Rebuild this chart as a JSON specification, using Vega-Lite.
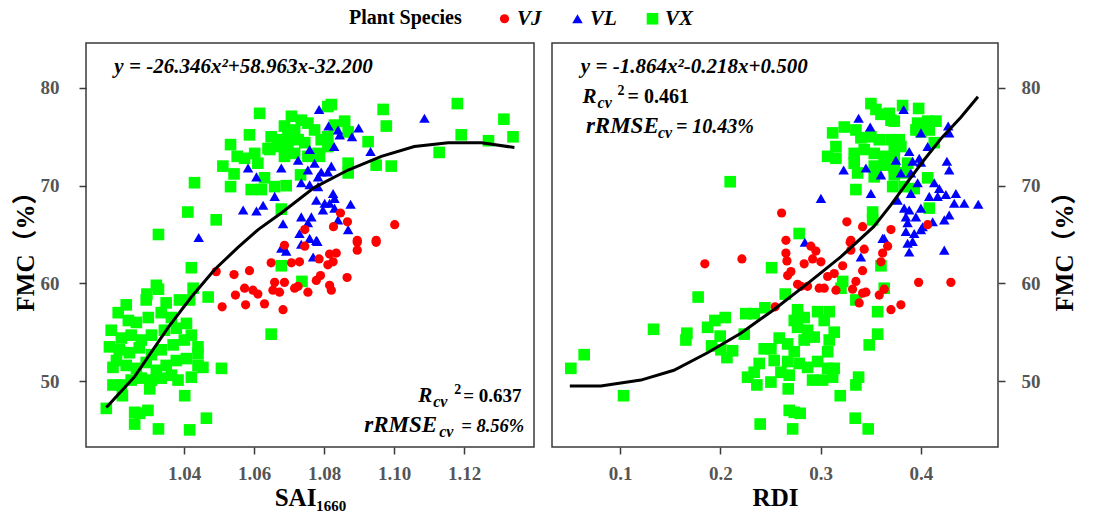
{
  "$schema": "https://vega.github.io/schema/vega-lite/v6.json",
  "background": "white",
  "padding": {"left": 12, "top": 8, "right": 10, "bottom": 5},
  "spacing": 16,
  "config": {
    "font": "Liberation Serif",
    "view": {"stroke": "#3a3a3a", "strokeWidth": 1.5},
    "axis": {
      "labelFont": "Liberation Serif",
      "labelFontWeight": "bold",
      "labelFontSize": 19,
      "labelColor": "#555555",
      "titleFont": "Liberation Serif, Noto Sans CJK SC",
      "titleFontSize": 25,
      "titleFontWeight": "bold",
      "titleColor": "#000000",
      "tickColor": "#3a3a3a",
      "tickSize": 7,
      "tickWidth": 1.5,
      "domain": false,
      "grid": false
    }
  },
  "datasets": {
    "sai": [
      {"sai":1.0616,"fmc":77.4,"species":"VX"},{"sai":1.0587,"fmc":75.2,"species":"VX"},{"sai":1.0533,"fmc":74.2,"species":"VX"},{"sai":1.0552,"fmc":73.0,"species":"VX"},{"sai":1.0573,"fmc":72.8,"species":"VX"},{"sai":1.0511,"fmc":72.0,"species":"VX"},{"sai":1.0543,"fmc":71.2,"species":"VX"},{"sai":1.043,"fmc":70.3,"species":"VX"},{"sai":1.0533,"fmc":69.9,"species":"VX"},{"sai":1.0411,"fmc":67.3,"species":"VX"},{"sai":1.0492,"fmc":66.5,"species":"VX"},{"sai":1.0327,"fmc":65.0,"species":"VX"},{"sai":1.0592,"fmc":69.6,"species":"VX"},{"sai":1.0621,"fmc":69.6,"species":"VX"},{"sai":1.063,"fmc":70.8,"species":"VX"},{"sai":1.0659,"fmc":69.9,"species":"VX"},{"sai":1.0692,"fmc":70.0,"species":"VX"},{"sai":1.0678,"fmc":67.6,"species":"VX"},{"sai":1.0602,"fmc":73.3,"species":"VX"},{"sai":1.0611,"fmc":72.3,"species":"VX"},{"sai":1.0645,"fmc":73.7,"species":"VX"},{"sai":1.0649,"fmc":75.0,"species":"VX"},
      {"sai":1.0687,"fmc":76.1,"species":"VX"},{"sai":1.0707,"fmc":77.1,"species":"VX"},{"sai":1.0716,"fmc":75.7,"species":"VX"},{"sai":1.0678,"fmc":74.7,"species":"VX"},{"sai":1.0697,"fmc":74.0,"species":"VX"},{"sai":1.0726,"fmc":74.7,"species":"VX"},{"sai":1.0754,"fmc":76.4,"species":"VX"},{"sai":1.0773,"fmc":75.7,"species":"VX"},{"sai":1.0745,"fmc":74.4,"species":"VX"},{"sai":1.0783,"fmc":73.3,"species":"VX"},{"sai":1.0716,"fmc":73.3,"species":"VX"},{"sai":1.0669,"fmc":74.0,"species":"VX"},{"sai":1.064,"fmc":73.8,"species":"VX"},{"sai":1.0792,"fmc":74.7,"species":"VX"},{"sai":1.0811,"fmc":75.0,"species":"VX"},{"sai":1.0811,"fmc":78.1,"species":"VX"},{"sai":1.0821,"fmc":78.3,"species":"VX"},{"sai":1.083,"fmc":76.2,"species":"VX"},{"sai":1.0859,"fmc":76.6,"species":"VX"},{"sai":1.0869,"fmc":75.5,"species":"VX"},{"sai":1.0811,"fmc":74.0,"species":"VX"},{"sai":1.0697,"fmc":75.0,"species":"VX"},{"sai":1.0735,"fmc":76.7,"species":"VX"},{"sai":1.0687,"fmc":73.0,"species":"VX"},{"sai":1.0754,"fmc":73.0,"species":"VX"},
      {"sai":1.0869,"fmc":72.3,"species":"VX"},{"sai":1.0869,"fmc":71.3,"species":"VX"},{"sai":1.0926,"fmc":74.5,"species":"VX"},{"sai":1.0949,"fmc":72.1,"species":"VX"},{"sai":1.0992,"fmc":72.0,"species":"VX"},{"sai":1.0969,"fmc":77.8,"species":"VX"},{"sai":1.0978,"fmc":76.1,"species":"VX"},{"sai":1.1181,"fmc":78.4,"species":"VX"},{"sai":1.1192,"fmc":75.2,"species":"VX"},{"sai":1.1129,"fmc":73.4,"species":"VX"},{"sai":1.127,"fmc":74.6,"species":"VX"},{"sai":1.1314,"fmc":76.8,"species":"VX"},{"sai":1.134,"fmc":75.0,"species":"VX"},{"sai":1.0733,"fmc":71.1,"species":"VX"},{"sai":1.0787,"fmc":73.0,"species":"VX"},
      {"sai":1.0421,"fmc":61.6,"species":"VX"},{"sai":1.0426,"fmc":59.5,"species":"VX"},{"sai":1.0416,"fmc":58.3,"species":"VX"},{"sai":1.0469,"fmc":58.6,"species":"VX"},{"sai":1.0327,"fmc":59.4,"species":"VX"},{"sai":1.0294,"fmc":58.9,"species":"VX"},{"sai":1.0507,"fmc":51.3,"species":"VX"},{"sai":1.044,"fmc":53.5,"species":"VX"},{"sai":1.044,"fmc":52.8,"species":"VX"},{"sai":1.044,"fmc":51.6,"species":"VX"},{"sai":1.0454,"fmc":51.4,"species":"VX"},{"sai":1.0421,"fmc":50.4,"species":"VX"},{"sai":1.0383,"fmc":50.1,"species":"VX"},{"sai":1.0197,"fmc":51.4,"species":"VX"},{"sai":1.0197,"fmc":49.6,"species":"VX"},{"sai":1.0221,"fmc":49.6,"species":"VX"},{"sai":1.0224,"fmc":48.5,"species":"VX"},{"sai":1.0302,"fmc":49.2,"species":"VX"},{"sai":1.0402,"fmc":48.5,"species":"VX"},{"sai":1.0178,"fmc":47.2,"species":"VX"},{"sai":1.0259,"fmc":46.8,"species":"VX"},{"sai":1.0273,"fmc":46.7,"species":"VX"},{"sai":1.0297,"fmc":47.0,"species":"VX"},{"sai":1.0259,"fmc":45.6,"species":"VX"},{"sai":1.0327,"fmc":45.1,"species":"VX"},{"sai":1.0416,"fmc":45.0,"species":"VX"},{"sai":1.0464,"fmc":46.2,"species":"VX"},{"sai":1.0649,"fmc":54.8,"species":"VX"},{"sai":1.0678,"fmc":61.8,"species":"VX"},{"sai":1.0737,"fmc":60.2,"species":"VX"},
      {"sai":1.0212,"fmc":57.0,"species":"VX"},{"sai":1.0241,"fmc":56.2,"species":"VX"},{"sai":1.0264,"fmc":56.0,"species":"VX"},{"sai":1.0298,"fmc":56.5,"species":"VX"},{"sai":1.0335,"fmc":57.0,"species":"VX"},{"sai":1.0364,"fmc":56.5,"species":"VX"},{"sai":1.0192,"fmc":55.2,"species":"VX"},{"sai":1.0221,"fmc":54.4,"species":"VX"},{"sai":1.0249,"fmc":54.7,"species":"VX"},{"sai":1.0278,"fmc":54.2,"species":"VX"},{"sai":1.0307,"fmc":54.7,"species":"VX"},{"sai":1.0344,"fmc":55.2,"species":"VX"},{"sai":1.0378,"fmc":55.4,"species":"VX"},{"sai":1.0407,"fmc":55.9,"species":"VX"},{"sai":1.0187,"fmc":53.5,"species":"VX"},{"sai":1.0215,"fmc":53.2,"species":"VX"},{"sai":1.0244,"fmc":52.9,"species":"VX"},{"sai":1.0272,"fmc":53.4,"species":"VX"},{"sai":1.0307,"fmc":52.7,"species":"VX"},{"sai":1.0335,"fmc":53.2,"species":"VX"},{"sai":1.0369,"fmc":53.7,"species":"VX"},{"sai":1.0401,"fmc":54.2,"species":"VX"},{"sai":1.0421,"fmc":54.7,"species":"VX"},{"sai":1.0207,"fmc":52.1,"species":"VX"},{"sai":1.0235,"fmc":51.6,"species":"VX"},{"sai":1.0264,"fmc":51.3,"species":"VX"},{"sai":1.0292,"fmc":51.9,"species":"VX"},{"sai":1.0321,"fmc":51.1,"species":"VX"},{"sai":1.0349,"fmc":51.6,"species":"VX"},{"sai":1.0378,"fmc":52.1,"species":"VX"},{"sai":1.0407,"fmc":52.3,"species":"VX"},{"sai":1.0278,"fmc":50.3,"species":"VX"},{"sai":1.0307,"fmc":50.1,"species":"VX"},{"sai":1.0335,"fmc":50.3,"species":"VX"},{"sai":1.0364,"fmc":50.6,"species":"VX"},{"sai":1.0249,"fmc":50.1,"species":"VX"},{"sai":1.0235,"fmc":57.8,"species":"VX"},{"sai":1.0292,"fmc":58.3,"species":"VX"},{"sai":1.0349,"fmc":58.0,"species":"VX"},{"sai":1.0387,"fmc":58.3,"species":"VX"},{"sai":1.0321,"fmc":59.8,"species":"VX"},
      {"sai":1.0786,"fmc":77.8,"species":"VL"},{"sai":1.0813,"fmc":76.1,"species":"VL"},{"sai":1.084,"fmc":75.7,"species":"VL"},{"sai":1.0845,"fmc":75.2,"species":"VL"},{"sai":1.088,"fmc":75.0,"species":"VL"},{"sai":1.0899,"fmc":75.9,"species":"VL"},{"sai":1.0933,"fmc":73.5,"species":"VL"},{"sai":1.0829,"fmc":74.0,"species":"VL"},{"sai":1.0759,"fmc":73.7,"species":"VL"},{"sai":1.0726,"fmc":72.6,"species":"VL"},{"sai":1.0678,"fmc":71.8,"species":"VL"},{"sai":1.0583,"fmc":71.8,"species":"VL"},{"sai":1.0607,"fmc":70.9,"species":"VL"},{"sai":1.0773,"fmc":72.3,"species":"VL"},{"sai":1.0754,"fmc":71.6,"species":"VL"},{"sai":1.0792,"fmc":71.4,"species":"VL"},{"sai":1.0821,"fmc":72.0,"species":"VL"},{"sai":1.0811,"fmc":71.4,"species":"VL"},{"sai":1.0735,"fmc":70.3,"species":"VL"},{"sai":1.0759,"fmc":70.1,"species":"VL"},{"sai":1.0783,"fmc":70.9,"species":"VL"},{"sai":1.0783,"fmc":69.9,"species":"VL"},{"sai":1.0659,"fmc":68.9,"species":"VL"},{"sai":1.0569,"fmc":67.5,"species":"VL"},{"sai":1.0607,"fmc":67.4,"species":"VL"},{"sai":1.0626,"fmc":68.0,"species":"VL"},{"sai":1.0826,"fmc":69.2,"species":"VL"},{"sai":1.083,"fmc":68.7,"species":"VL"},{"sai":1.0816,"fmc":68.2,"species":"VL"},{"sai":1.0778,"fmc":68.5,"species":"VL"},{"sai":1.0802,"fmc":68.2,"species":"VL"},{"sai":1.0797,"fmc":67.5,"species":"VL"},{"sai":1.083,"fmc":67.7,"species":"VL"},{"sai":1.0876,"fmc":68.1,"species":"VL"},{"sai":1.0735,"fmc":66.8,"species":"VL"},{"sai":1.0764,"fmc":66.8,"species":"VL"},{"sai":1.0754,"fmc":66.2,"species":"VL"},{"sai":1.0683,"fmc":66.1,"species":"VL"},{"sai":1.073,"fmc":65.1,"species":"VL"},{"sai":1.0759,"fmc":64.6,"species":"VL"},{"sai":1.0778,"fmc":64.4,"species":"VL"},{"sai":1.084,"fmc":66.5,"species":"VL"},{"sai":1.0869,"fmc":65.5,"species":"VL"},{"sai":1.0442,"fmc":64.7,"species":"VL"},{"sai":1.1087,"fmc":76.9,"species":"VL"},{"sai":1.0735,"fmc":64.0,"species":"VL"},{"sai":1.0781,"fmc":64.3,"species":"VL"},{"sai":1.0678,"fmc":63.6,"species":"VL"},{"sai":1.0692,"fmc":63.3,"species":"VL"},{"sai":1.0769,"fmc":62.7,"species":"VL"},
      {"sai":1.0847,"fmc":67.2,"species":"VJ"},{"sai":1.0867,"fmc":66.3,"species":"VJ"},{"sai":1.0827,"fmc":65.8,"species":"VJ"},{"sai":1.1002,"fmc":66.0,"species":"VJ"},{"sai":1.0745,"fmc":65.5,"species":"VJ"},{"sai":1.0895,"fmc":64.4,"species":"VJ"},{"sai":1.0949,"fmc":64.4,"species":"VJ"},{"sai":1.0492,"fmc":61.2,"species":"VJ"},{"sai":1.0543,"fmc":60.9,"species":"VJ"},{"sai":1.0587,"fmc":61.3,"species":"VJ"},{"sai":1.0573,"fmc":59.5,"species":"VJ"},{"sai":1.0597,"fmc":59.3,"species":"VJ"},{"sai":1.0611,"fmc":58.9,"species":"VJ"},{"sai":1.0547,"fmc":58.8,"species":"VJ"},{"sai":1.0509,"fmc":57.6,"species":"VJ"},{"sai":1.0576,"fmc":57.8,"species":"VJ"},{"sai":1.063,"fmc":57.9,"species":"VJ"},{"sai":1.0683,"fmc":57.3,"species":"VJ"},{"sai":1.0649,"fmc":62.1,"species":"VJ"},{"sai":1.0659,"fmc":60.1,"species":"VJ"},{"sai":1.0687,"fmc":60.1,"species":"VJ"},{"sai":1.0654,"fmc":59.3,"species":"VJ"},{"sai":1.0673,"fmc":59.1,"species":"VJ"},{"sai":1.0716,"fmc":59.5,"species":"VJ"},{"sai":1.0726,"fmc":59.7,"species":"VJ"},{"sai":1.0754,"fmc":59.1,"species":"VJ"},{"sai":1.0687,"fmc":63.9,"species":"VJ"},{"sai":1.0707,"fmc":62.1,"species":"VJ"},{"sai":1.073,"fmc":62.2,"species":"VJ"},{"sai":1.0745,"fmc":63.8,"species":"VJ"},{"sai":1.0778,"fmc":60.3,"species":"VJ"},{"sai":1.079,"fmc":60.8,"species":"VJ"},{"sai":1.0816,"fmc":59.8,"species":"VJ"},{"sai":1.0821,"fmc":59.3,"species":"VJ"},{"sai":1.0786,"fmc":62.5,"species":"VJ"},{"sai":1.0811,"fmc":61.9,"species":"VJ"},{"sai":1.0826,"fmc":62.2,"species":"VJ"},{"sai":1.0816,"fmc":63.0,"species":"VJ"},{"sai":1.0835,"fmc":63.1,"species":"VJ"},{"sai":1.0895,"fmc":64.2,"species":"VJ"},{"sai":1.0895,"fmc":63.4,"species":"VJ"},{"sai":1.0949,"fmc":64.2,"species":"VJ"},{"sai":1.0866,"fmc":60.6,"species":"VJ"}
    ],
    "rdi": [
      {"rdi":0.2098,"fmc":70.4,"species":"VX"},{"rdi":0.3502,"fmc":78.4,"species":"VX"},{"rdi":0.3552,"fmc":77.8,"species":"VX"},{"rdi":0.3602,"fmc":77.3,"species":"VX"},{"rdi":0.3685,"fmc":77.4,"species":"VX"},{"rdi":0.3702,"fmc":76.7,"species":"VX"},{"rdi":0.3735,"fmc":76.6,"species":"VX"},{"rdi":0.3818,"fmc":78.2,"species":"VX"},{"rdi":0.3978,"fmc":77.9,"species":"VX"},{"rdi":0.312,"fmc":75.4,"species":"VX"},{"rdi":0.3236,"fmc":76.0,"species":"VX"},{"rdi":0.3352,"fmc":75.7,"species":"VX"},{"rdi":0.3402,"fmc":74.9,"species":"VX"},{"rdi":0.3502,"fmc":75.0,"species":"VX"},{"rdi":0.3585,"fmc":74.7,"species":"VX"},{"rdi":0.3702,"fmc":74.7,"species":"VX"},{"rdi":0.3784,"fmc":74.7,"species":"VX"},{"rdi":0.3801,"fmc":74.0,"species":"VX"},{"rdi":0.3735,"fmc":73.7,"species":"VX"},{"rdi":0.3968,"fmc":76.4,"species":"VX"},{"rdi":0.4068,"fmc":76.6,"species":"VX"},{"rdi":0.4151,"fmc":76.6,"species":"VX"},{"rdi":0.4001,"fmc":75.5,"species":"VX"},{"rdi":0.3951,"fmc":75.7,"species":"VX"},{"rdi":0.4084,"fmc":75.7,"species":"VX"},{"rdi":0.3153,"fmc":74.0,"species":"VX"},{"rdi":0.307,"fmc":73.0,"species":"VX"},{"rdi":0.3153,"fmc":72.8,"species":"VX"},{"rdi":0.3335,"fmc":73.3,"species":"VX"},{"rdi":0.3435,"fmc":73.7,"species":"VX"},{"rdi":0.3535,"fmc":73.3,"species":"VX"},{"rdi":0.3635,"fmc":73.0,"species":"VX"},{"rdi":0.3735,"fmc":73.0,"species":"VX"},{"rdi":0.3335,"fmc":72.3,"species":"VX"},{"rdi":0.3535,"fmc":72.0,"species":"VX"},{"rdi":0.3635,"fmc":72.1,"species":"VX"},{"rdi":0.3735,"fmc":71.8,"species":"VX"},{"rdi":0.3369,"fmc":71.3,"species":"VX"},{"rdi":0.3535,"fmc":70.9,"species":"VX"},{"rdi":0.3735,"fmc":71.1,"species":"VX"},{"rdi":0.3834,"fmc":71.3,"species":"VX"},{"rdi":0.3868,"fmc":72.3,"species":"VX"},{"rdi":0.3719,"fmc":69.9,"species":"VX"},{"rdi":0.3834,"fmc":69.9,"species":"VX"},{"rdi":0.3934,"fmc":69.7,"species":"VX"},{"rdi":0.4068,"fmc":70.8,"species":"VX"},{"rdi":0.4134,"fmc":74.4,"species":"VX"},{"rdi":0.3352,"fmc":69.6,"species":"VX"},{"rdi":0.3519,"fmc":67.3,"species":"VX"},{"rdi":0.3519,"fmc":66.5,"species":"VX"},{"rdi":0.4084,"fmc":67.7,"species":"VX"},{"rdi":0.2786,"fmc":65.1,"species":"VX"},{"rdi":0.2511,"fmc":61.6,"species":"VX"},{"rdi":0.3602,"fmc":61.8,"species":"VX"},{"rdi":0.322,"fmc":60.2,"species":"VX"},{"rdi":0.3203,"fmc":59.5,"species":"VX"},{"rdi":0.3352,"fmc":58.3,"species":"VX"},{"rdi":0.3635,"fmc":59.5,"species":"VX"},{"rdi":0.2647,"fmc":58.9,"species":"VX"},{"rdi":0.1778,"fmc":58.6,"species":"VX"},{"rdi":0.2254,"fmc":56.9,"species":"VX"},{"rdi":0.2337,"fmc":56.9,"species":"VX"},{"rdi":0.2444,"fmc":57.5,"species":"VX"},{"rdi":0.2048,"fmc":56.5,"species":"VX"},{"rdi":0.1945,"fmc":56.2,"species":"VX"},{"rdi":0.1872,"fmc":55.5,"species":"VX"},{"rdi":0.1998,"fmc":54.6,"species":"VX"},{"rdi":0.1666,"fmc":54.9,"species":"VX"},{"rdi":0.1656,"fmc":54.2,"species":"VX"},{"rdi":0.1333,"fmc":55.3,"species":"VX"},{"rdi":0.2238,"fmc":54.8,"species":"VX"},{"rdi":0.1912,"fmc":53.6,"species":"VX"},{"rdi":0.2005,"fmc":53.2,"species":"VX"},{"rdi":0.2122,"fmc":53.1,"species":"VX"},{"rdi":0.2065,"fmc":52.4,"species":"VX"},{"rdi":0.0641,"fmc":52.7,"species":"VX"},{"rdi":0.0508,"fmc":51.3,"species":"VX"},{"rdi":0.1034,"fmc":48.5,"species":"VX"},
      {"rdi":0.277,"fmc":57.3,"species":"VX"},{"rdi":0.2737,"fmc":56.2,"species":"VX"},{"rdi":0.2836,"fmc":56.5,"species":"VX"},{"rdi":0.277,"fmc":55.5,"species":"VX"},{"rdi":0.287,"fmc":55.2,"species":"VX"},{"rdi":0.297,"fmc":57.1,"species":"VX"},{"rdi":0.3086,"fmc":57.1,"species":"VX"},{"rdi":0.3036,"fmc":56.2,"species":"VX"},{"rdi":0.3136,"fmc":55.0,"species":"VX"},{"rdi":0.3086,"fmc":54.2,"species":"VX"},{"rdi":0.2936,"fmc":54.5,"species":"VX"},{"rdi":0.2836,"fmc":54.2,"species":"VX"},{"rdi":0.2587,"fmc":54.4,"species":"VX"},{"rdi":0.2671,"fmc":53.8,"species":"VX"},{"rdi":0.2737,"fmc":53.0,"species":"VX"},{"rdi":0.2504,"fmc":53.3,"species":"VX"},{"rdi":0.2437,"fmc":53.3,"species":"VX"},{"rdi":0.2537,"fmc":52.1,"species":"VX"},{"rdi":0.2671,"fmc":52.0,"species":"VX"},{"rdi":0.2786,"fmc":51.8,"species":"VX"},{"rdi":0.287,"fmc":51.4,"species":"VX"},{"rdi":0.297,"fmc":52.0,"species":"VX"},{"rdi":0.307,"fmc":53.0,"species":"VX"},{"rdi":0.307,"fmc":51.3,"species":"VX"},{"rdi":0.3136,"fmc":51.3,"species":"VX"},{"rdi":0.312,"fmc":50.4,"species":"VX"},{"rdi":0.302,"fmc":50.1,"species":"VX"},{"rdi":0.292,"fmc":50.1,"species":"VX"},{"rdi":0.2387,"fmc":51.8,"species":"VX"},{"rdi":0.2337,"fmc":50.9,"species":"VX"},{"rdi":0.2271,"fmc":50.4,"species":"VX"},{"rdi":0.2364,"fmc":49.6,"species":"VX"},{"rdi":0.2504,"fmc":49.9,"species":"VX"},{"rdi":0.2604,"fmc":50.9,"species":"VX"},{"rdi":0.2687,"fmc":50.6,"species":"VX"},{"rdi":0.2677,"fmc":49.2,"species":"VX"},{"rdi":0.3569,"fmc":57.1,"species":"VX"},{"rdi":0.3569,"fmc":54.8,"species":"VX"},{"rdi":0.3485,"fmc":53.7,"species":"VX"},{"rdi":0.3379,"fmc":50.4,"species":"VX"},{"rdi":0.3352,"fmc":49.6,"species":"VX"},{"rdi":0.3196,"fmc":48.5,"species":"VX"},{"rdi":0.2687,"fmc":47.0,"species":"VX"},{"rdi":0.2737,"fmc":46.8,"species":"VX"},{"rdi":0.2796,"fmc":46.7,"species":"VX"},{"rdi":0.2397,"fmc":45.6,"species":"VX"},{"rdi":0.2721,"fmc":45.1,"species":"VX"},{"rdi":0.3345,"fmc":46.2,"species":"VX"},{"rdi":0.3475,"fmc":45.1,"species":"VX"},
      {"rdi":0.3379,"fmc":76.9,"species":"VL"},{"rdi":0.3495,"fmc":76.0,"species":"VL"},{"rdi":0.3828,"fmc":77.8,"species":"VL"},{"rdi":0.4273,"fmc":76.1,"species":"VL"},{"rdi":0.4283,"fmc":75.4,"species":"VL"},{"rdi":0.4001,"fmc":75.4,"species":"VL"},{"rdi":0.4068,"fmc":74.0,"species":"VL"},{"rdi":0.3984,"fmc":72.8,"species":"VL"},{"rdi":0.3918,"fmc":72.5,"species":"VL"},{"rdi":0.4001,"fmc":72.4,"species":"VL"},{"rdi":0.3884,"fmc":73.5,"species":"VL"},{"rdi":0.3751,"fmc":72.6,"species":"VL"},{"rdi":0.323,"fmc":71.6,"species":"VL"},{"rdi":0.3452,"fmc":71.8,"species":"VL"},{"rdi":0.3602,"fmc":71.1,"species":"VL"},{"rdi":0.426,"fmc":72.5,"species":"VL"},{"rdi":0.4283,"fmc":71.6,"species":"VL"},{"rdi":0.3801,"fmc":71.3,"species":"VL"},{"rdi":0.3901,"fmc":71.3,"species":"VL"},{"rdi":0.3968,"fmc":70.3,"species":"VL"},{"rdi":0.3901,"fmc":69.2,"species":"VL"},{"rdi":0.4134,"fmc":70.3,"species":"VL"},{"rdi":0.4184,"fmc":69.7,"species":"VL"},{"rdi":0.4084,"fmc":68.9,"species":"VL"},{"rdi":0.4168,"fmc":68.9,"species":"VL"},{"rdi":0.425,"fmc":69.1,"species":"VL"},{"rdi":0.435,"fmc":69.2,"species":"VL"},{"rdi":0.3003,"fmc":68.7,"species":"VL"},{"rdi":0.3502,"fmc":69.2,"species":"VL"},{"rdi":0.3768,"fmc":68.5,"species":"VL"},{"rdi":0.3834,"fmc":67.7,"species":"VL"},{"rdi":0.3884,"fmc":67.5,"species":"VL"},{"rdi":0.3851,"fmc":66.8,"species":"VL"},{"rdi":0.3951,"fmc":66.8,"species":"VL"},{"rdi":0.4001,"fmc":67.7,"species":"VL"},{"rdi":0.4118,"fmc":66.3,"species":"VL"},{"rdi":0.4234,"fmc":66.5,"species":"VL"},{"rdi":0.4283,"fmc":67.0,"species":"VL"},{"rdi":0.4333,"fmc":68.2,"species":"VL"},{"rdi":0.4433,"fmc":68.2,"species":"VL"},{"rdi":0.4573,"fmc":68.1,"species":"VL"},{"rdi":0.3868,"fmc":66.2,"species":"VL"},{"rdi":0.3851,"fmc":65.3,"species":"VL"},{"rdi":0.3934,"fmc":65.1,"species":"VL"},{"rdi":0.4018,"fmc":65.8,"species":"VL"},{"rdi":0.3635,"fmc":64.6,"species":"VL"},{"rdi":0.2843,"fmc":64.2,"species":"VL"},{"rdi":0.3402,"fmc":62.7,"species":"VL"},{"rdi":0.3619,"fmc":64.6,"species":"VL"},{"rdi":0.3868,"fmc":64.1,"species":"VL"},{"rdi":0.3884,"fmc":63.2,"species":"VL"},{"rdi":0.3918,"fmc":64.3,"species":"VL"},{"rdi":0.4001,"fmc":65.5,"species":"VL"},{"rdi":0.4234,"fmc":63.4,"species":"VL"},
      {"rdi":0.2611,"fmc":67.2,"species":"VJ"},{"rdi":0.3262,"fmc":66.3,"species":"VJ"},{"rdi":0.3419,"fmc":65.8,"species":"VJ"},{"rdi":0.3702,"fmc":65.5,"species":"VJ"},{"rdi":0.4068,"fmc":66.0,"species":"VJ"},{"rdi":0.2654,"fmc":64.4,"species":"VJ"},{"rdi":0.3302,"fmc":64.4,"species":"VJ"},{"rdi":0.2654,"fmc":63.1,"species":"VJ"},{"rdi":0.2664,"fmc":62.3,"species":"VJ"},{"rdi":0.2903,"fmc":63.8,"species":"VJ"},{"rdi":0.2953,"fmc":63.3,"species":"VJ"},{"rdi":0.2836,"fmc":62.0,"species":"VJ"},{"rdi":0.292,"fmc":62.5,"species":"VJ"},{"rdi":0.3003,"fmc":62.2,"species":"VJ"},{"rdi":0.2704,"fmc":61.2,"species":"VJ"},{"rdi":0.2671,"fmc":60.8,"species":"VJ"},{"rdi":0.277,"fmc":59.9,"species":"VJ"},{"rdi":0.287,"fmc":59.7,"species":"VJ"},{"rdi":0.2803,"fmc":59.7,"species":"VJ"},{"rdi":0.2986,"fmc":59.5,"species":"VJ"},{"rdi":0.3036,"fmc":59.5,"species":"VJ"},{"rdi":0.307,"fmc":60.7,"species":"VJ"},{"rdi":0.3136,"fmc":61.0,"species":"VJ"},{"rdi":0.322,"fmc":61.8,"species":"VJ"},{"rdi":0.3295,"fmc":64.2,"species":"VJ"},{"rdi":0.3302,"fmc":63.4,"species":"VJ"},{"rdi":0.3435,"fmc":63.5,"species":"VJ"},{"rdi":0.3419,"fmc":61.3,"species":"VJ"},{"rdi":0.3352,"fmc":60.2,"species":"VJ"},{"rdi":0.3319,"fmc":59.4,"species":"VJ"},{"rdi":0.3419,"fmc":59.0,"species":"VJ"},{"rdi":0.3452,"fmc":59.1,"species":"VJ"},{"rdi":0.3385,"fmc":58.0,"species":"VJ"},{"rdi":0.3153,"fmc":59.3,"species":"VJ"},{"rdi":0.3585,"fmc":58.8,"species":"VJ"},{"rdi":0.3635,"fmc":59.4,"species":"VJ"},{"rdi":0.3619,"fmc":63.1,"species":"VJ"},{"rdi":0.3669,"fmc":63.8,"species":"VJ"},{"rdi":0.3602,"fmc":62.2,"species":"VJ"},{"rdi":0.3702,"fmc":57.3,"species":"VJ"},{"rdi":0.3801,"fmc":57.8,"species":"VJ"},{"rdi":0.3978,"fmc":60.1,"species":"VJ"},{"rdi":0.43,"fmc":60.1,"species":"VJ"},{"rdi":0.1845,"fmc":62.0,"species":"VJ"},{"rdi":0.2215,"fmc":62.5,"species":"VJ"},{"rdi":0.2547,"fmc":57.6,"species":"VJ"}
    ],
    "fitL": [
      {"sai":1.0178,"fmc":47.3},{"sai":1.0258,"fmc":50.4},{"sai":1.0355,"fmc":55.5},{"sai":1.0421,"fmc":58.6},{"sai":1.0487,"fmc":61.4},{"sai":1.0555,"fmc":63.7},{"sai":1.0612,"fmc":65.5},{"sai":1.0678,"fmc":67.2},{"sai":1.0772,"fmc":69.8},{"sai":1.0869,"fmc":71.6},{"sai":1.0964,"fmc":73.0},{"sai":1.1058,"fmc":74.0},{"sai":1.1155,"fmc":74.4},{"sai":1.125,"fmc":74.4},{"sai":1.1344,"fmc":73.9}
    ],
    "fitR": [
      {"rdi":0.0498,"fmc":49.5},{"rdi":0.0807,"fmc":49.5},{"rdi":0.1207,"fmc":50.1},{"rdi":0.1536,"fmc":51.1},{"rdi":0.1872,"fmc":52.9},{"rdi":0.2204,"fmc":54.9},{"rdi":0.2533,"fmc":57.3},{"rdi":0.2872,"fmc":60.0},{"rdi":0.3201,"fmc":62.7},{"rdi":0.353,"fmc":65.8},{"rdi":0.37,"fmc":68.0},{"rdi":0.387,"fmc":70.4},{"rdi":0.403,"fmc":72.6},{"rdi":0.42,"fmc":74.8},{"rdi":0.44,"fmc":77.0},{"rdi":0.457,"fmc":79.1}
    ]
  },
  "hconcat": [
    {
      "width": 448,
      "height": 404,
      "layer": [
        {
          "data": {"name": "sai"},
          "mark": {"type": "point", "filled": true, "opacity": 1},
          "encoding": {
            "x": {"field": "sai", "type": "quantitative", "scale": {"domain": [1.012, 1.14], "nice": false, "zero": false},
                  "axis": {"title": "SAI₁₆₆₀", "values": [1.04, 1.06, 1.08, 1.1, 1.12], "format": ".2f", "labelPadding": 10, "titlePadding": 2}},
            "y": {"field": "fmc", "type": "quantitative", "scale": {"domain": [43.25, 84.6], "nice": false, "zero": false},
                  "axis": {"title": "FMC（%）", "orient": "left", "values": [50, 60, 70, 80], "labelPadding": 20, "titlePadding": 2}},
            "color": {"field": "species", "type": "nominal", "scale": {"domain": ["VJ", "VL", "VX"], "range": ["#ff0000", "#0000ff", "#00ff00"]},
                      "legend": {"title": "Plant Species", "orient": "none", "legendX": 263, "legendY": -35, "direction": "horizontal", "titleOrient": "left",
                                 "titleFont": "Liberation Serif", "titleFontSize": 20, "titleFontWeight": "bold", "titleColor": "#000000", "titlePadding": 32,
                                 "labelFont": "Liberation Serif", "labelFontSize": 21, "labelFontStyle": "italic", "labelFontWeight": "bold", "labelColor": "#000000",
                                 "symbolSize": 60, "labelOffset": 2, "columnPadding": 25}},
            "shape": {"field": "species", "type": "nominal", "scale": {"domain": ["VJ", "VL", "VX"], "range": ["circle", "triangle-up", "square"]}},
            "size": {"field": "species", "type": "nominal", "scale": {"domain": ["VJ", "VL", "VX"], "range": [85, 135, 100]}, "legend": null}
          }
        },
        {
          "data": {"name": "fitL"},
          "mark": {"type": "line", "color": "#000000", "strokeWidth": 3},
          "encoding": {"x": {"field": "sai", "type": "quantitative"}, "y": {"field": "fmc", "type": "quantitative"}}
        },
        {
          "data": {"values": [{}]},
          "mark": {"type": "text", "align": "left", "baseline": "alphabetic", "font": "Liberation Serif", "fontSize": 21, "fontWeight": "bold", "fontStyle": "italic", "color": "#000000"},
          "encoding": {"x": {"datum": 1.0201}, "y": {"datum": 81.57}, "text": {"value": "y = -26.346x²+58.963x-32.200"}}
        },
        {
          "data": {"values": [{}]},
          "mark": {"type": "text", "align": "left", "baseline": "alphabetic", "font": "Liberation Serif", "fontSize": 21, "fontWeight": "bold", "fontStyle": "italic", "color": "#000000"},
          "encoding": {"x": {"datum": 1.1069}, "y": {"datum": 47.83}, "text": {"value": "R"}}
        },
        {
          "data": {"values": [{}]},
          "mark": {"type": "text", "align": "left", "baseline": "alphabetic", "font": "Liberation Serif", "fontSize": 16, "fontWeight": "bold", "fontStyle": "italic", "color": "#000000", "dx": 15, "dy": 5},
          "encoding": {"x": {"datum": 1.1069}, "y": {"datum": 47.83}, "text": {"value": "cv"}}
        },
        {
          "data": {"values": [{}]},
          "mark": {"type": "text", "align": "left", "baseline": "alphabetic", "font": "Liberation Serif", "fontSize": 14, "fontWeight": "bold", "color": "#000000", "dx": 36, "dy": -8},
          "encoding": {"x": {"datum": 1.1069}, "y": {"datum": 47.83}, "text": {"value": "2"}}
        },
        {
          "data": {"values": [{}]},
          "mark": {"type": "text", "align": "left", "baseline": "alphabetic", "font": "Liberation Serif", "fontSize": 19, "fontWeight": "bold", "color": "#000000", "dx": 45},
          "encoding": {"x": {"datum": 1.1069}, "y": {"datum": 47.83}, "text": {"value": "= 0.637"}}
        },
        {
          "data": {"values": [{}]},
          "mark": {"type": "text", "align": "left", "baseline": "alphabetic", "font": "Liberation Serif", "fontSize": 23, "fontWeight": "bold", "fontStyle": "italic", "color": "#000000"},
          "encoding": {"x": {"datum": 1.0915}, "y": {"datum": 44.75}, "text": {"value": "rRMSE"}}
        },
        {
          "data": {"values": [{}]},
          "mark": {"type": "text", "align": "left", "baseline": "alphabetic", "font": "Liberation Serif", "fontSize": 16, "fontWeight": "bold", "fontStyle": "italic", "color": "#000000", "dx": 75, "dy": 5},
          "encoding": {"x": {"datum": 1.0915}, "y": {"datum": 44.75}, "text": {"value": "cv"}}
        },
        {
          "data": {"values": [{}]},
          "mark": {"type": "text", "align": "left", "baseline": "alphabetic", "font": "Liberation Serif", "fontSize": 18.5, "fontWeight": "bold", "fontStyle": "italic", "color": "#000000", "dx": 97},
          "encoding": {"x": {"datum": 1.0915}, "y": {"datum": 44.75}, "text": {"value": "= 8.56%"}}
        }
      ]
    },
    {
      "width": 446,
      "height": 404,
      "layer": [
        {
          "data": {"name": "rdi"},
          "mark": {"type": "point", "filled": true, "opacity": 1},
          "encoding": {
            "x": {"field": "rdi", "type": "quantitative", "scale": {"domain": [0.032, 0.477], "nice": false, "zero": false},
                  "axis": {"title": "RDI", "values": [0.1, 0.2, 0.3, 0.4], "format": ".1f", "labelPadding": 10, "titlePadding": 2}},
            "y": {"field": "fmc", "type": "quantitative", "scale": {"domain": [43.25, 84.6], "nice": false, "zero": false},
                  "axis": {"title": "FMC（%）", "orient": "right", "titleAngle": 270, "titleBaseline": "top", "values": [50, 60, 70, 80], "labelPadding": 16, "titlePadding": 12}},
            "color": {"field": "species", "type": "nominal", "scale": {"domain": ["VJ", "VL", "VX"], "range": ["#ff0000", "#0000ff", "#00ff00"]}},
            "shape": {"field": "species", "type": "nominal", "scale": {"domain": ["VJ", "VL", "VX"], "range": ["circle", "triangle-up", "square"]}},
            "size": {"field": "species", "type": "nominal", "scale": {"domain": ["VJ", "VL", "VX"], "range": [85, 135, 100]}, "legend": null}
          }
        },
        {
          "data": {"name": "fitR"},
          "mark": {"type": "line", "color": "#000000", "strokeWidth": 3},
          "encoding": {"x": {"field": "rdi", "type": "quantitative"}, "y": {"field": "fmc", "type": "quantitative"}}
        },
        {
          "data": {"values": [{}]},
          "mark": {"type": "text", "align": "left", "baseline": "alphabetic", "font": "Liberation Serif", "fontSize": 21, "fontWeight": "bold", "fontStyle": "italic", "color": "#000000"},
          "encoding": {"x": {"datum": 0.0608}, "y": {"datum": 81.57}, "text": {"value": "y = -1.864x²-0.218x+0.500"}}
        },
        {
          "data": {"values": [{}]},
          "mark": {"type": "text", "align": "left", "baseline": "alphabetic", "font": "Liberation Serif", "fontSize": 21, "fontWeight": "bold", "fontStyle": "italic", "color": "#000000"},
          "encoding": {"x": {"datum": 0.0625}, "y": {"datum": 78.49}, "text": {"value": "R"}}
        },
        {
          "data": {"values": [{}]},
          "mark": {"type": "text", "align": "left", "baseline": "alphabetic", "font": "Liberation Serif", "fontSize": 16, "fontWeight": "bold", "fontStyle": "italic", "color": "#000000", "dx": 15, "dy": 5},
          "encoding": {"x": {"datum": 0.0625}, "y": {"datum": 78.49}, "text": {"value": "cv"}}
        },
        {
          "data": {"values": [{}]},
          "mark": {"type": "text", "align": "left", "baseline": "alphabetic", "font": "Liberation Serif", "fontSize": 14, "fontWeight": "bold", "color": "#000000", "dx": 35, "dy": -8},
          "encoding": {"x": {"datum": 0.0625}, "y": {"datum": 78.49}, "text": {"value": "2"}}
        },
        {
          "data": {"values": [{}]},
          "mark": {"type": "text", "align": "left", "baseline": "alphabetic", "font": "Liberation Serif", "fontSize": 20, "fontWeight": "bold", "color": "#000000", "dx": 45},
          "encoding": {"x": {"datum": 0.0625}, "y": {"datum": 78.49}, "text": {"value": "= 0.461"}}
        },
        {
          "data": {"values": [{}]},
          "mark": {"type": "text", "align": "left", "baseline": "alphabetic", "font": "Liberation Serif", "fontSize": 23, "fontWeight": "bold", "fontStyle": "italic", "color": "#000000"},
          "encoding": {"x": {"datum": 0.0658}, "y": {"datum": 75.42}, "text": {"value": "rRMSE"}}
        },
        {
          "data": {"values": [{}]},
          "mark": {"type": "text", "align": "left", "baseline": "alphabetic", "font": "Liberation Serif", "fontSize": 16, "fontWeight": "bold", "fontStyle": "italic", "color": "#000000", "dx": 72, "dy": 5},
          "encoding": {"x": {"datum": 0.0658}, "y": {"datum": 75.42}, "text": {"value": "cv"}}
        },
        {
          "data": {"values": [{}]},
          "mark": {"type": "text", "align": "left", "baseline": "alphabetic", "font": "Liberation Serif", "fontSize": 20, "fontWeight": "bold", "fontStyle": "italic", "color": "#000000", "dx": 90},
          "encoding": {"x": {"datum": 0.0658}, "y": {"datum": 75.42}, "text": {"value": "= 10.43%"}}
        }
      ]
    }
  ]
}
